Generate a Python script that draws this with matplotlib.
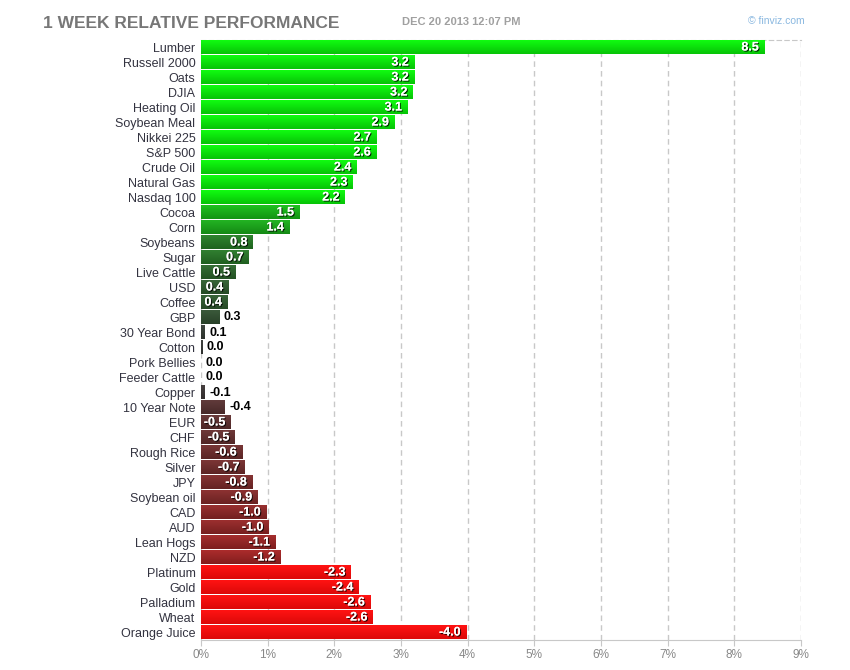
import numpy as np
import matplotlib
matplotlib.use("Agg")
import matplotlib.pyplot as plt
import matplotlib.patheffects as pe

plt.rcParams['font.family'] = ['Liberation Sans', 'DejaVu Sans']

names = ["Lumber", "Russell 2000", "Oats", "DJIA", "Heating Oil", "Soybean Meal",
         "Nikkei 225", "S&P 500", "Crude Oil", "Natural Gas", "Nasdaq 100", "Cocoa",
         "Corn", "Soybeans", "Sugar", "Live Cattle", "USD", "Coffee", "GBP",
         "30 Year Bond", "Cotton", "Pork Bellies", "Feeder Cattle", "Copper",
         "10 Year Note", "EUR", "CHF", "Rough Rice", "Silver", "JPY", "Soybean oil",
         "CAD", "AUD", "Lean Hogs", "NZD", "Platinum", "Gold", "Palladium", "Wheat",
         "Orange Juice"]
values = [8.45, 3.2, 3.2, 3.18, 3.1, 2.9, 2.63, 2.63, 2.34, 2.28, 2.16, 1.48,
          1.33, 0.78, 0.72, 0.52, 0.42, 0.40, 0.28, 0.06, 0.02, 0.0, 0.0, -0.06,
          -0.36, -0.45, -0.51, -0.62, -0.66, -0.77, -0.85, -0.98, -1.02, -1.12,
          -1.19, -2.25, -2.37, -2.54, -2.58, -3.98]
labels = ["8.5", "3.2", "3.2", "3.2", "3.1", "2.9", "2.7", "2.6", "2.4", "2.3", "2.2",
          "1.5", "1.4", "0.8", "0.7", "0.5", "0.4", "0.4", "0.3", "0.1", "0.0", "0.0",
          "0.0", "-0.1", "-0.4", "-0.5", "-0.5", "-0.6", "-0.7", "-0.8", "-0.9",
          "-1.0", "-1.0", "-1.1", "-1.2", "-2.3", "-2.4", "-2.6", "-2.6", "-4.0"]
xticks = list(range(10))


def bar_color(v):
    gray = np.array([51, 51, 51]) / 255
    if v >= 0:
        if v >= 2:
            return np.array([8, 218, 8]) / 255
        end = np.array([10, 205, 10]) / 255
    else:
        if v <= -2:
            return np.array([245, 10, 10]) / 255
        end = np.array([210, 20, 20]) / 255
    t = min(abs(v) / 2.0, 1.0)
    return gray + (end - gray) * t


fig = plt.figure(figsize=(8.5, 6.7), dpi=100)
ax = fig.add_axes([201 / 850, 30 / 670, 600 / 850, 600 / 670])

n = len(names)
for i, v in enumerate(values):
    a = abs(v)
    c = bar_color(v)
    if a > 0:
        top = np.clip(c * 1.12 + 0.03, 0, 1)
        bot = c * 0.9
        grad = np.linspace(0, 1, 20)[:, None, None] * (bot - top) + top
        grad = np.repeat(grad, 2, axis=1)
        ax.imshow(grad, extent=(0, a, i + 0.44, i - 0.46), aspect='auto',
                  interpolation='bilinear', zorder=3)
    if a >= 0.39:
        ax.annotate(labels[i], (a, i), xytext=(-4, 0), textcoords='offset points',
                    ha='right', va='center', fontsize=9, fontweight='bold',
                    color='white', zorder=5,
                    path_effects=[pe.withSimplePatchShadow(offset=(0.8, -0.8),
                                                           shadow_rgbFace='black',
                                                           alpha=0.8), pe.Normal()])
    else:
        ax.annotate(labels[i], (a, i), xytext=(3, 0), textcoords='offset points',
                    ha='left', va='center', fontsize=9, fontweight='bold',
                    color='black', zorder=5)

ax.set_xlim(0, 9)
ax.set_ylim(n - 0.5, -0.5)
ax.set_yticks(range(n))
ax.set_yticklabels(names, fontsize=9, color='#333340')
ax.tick_params(axis='y', length=0, pad=4)
ax.set_xticks(xticks)
ax.set_xticklabels([f"{t}%" for t in xticks], fontsize=8.5, color='#888888')
ax.tick_params(axis='x', length=4, color='#c8c8c8', pad=2.5)
ax.grid(axis='x', color='#c8c8c8', linestyle=(0, (4, 3)), linewidth=1, zorder=0)
ax.set_axisbelow(True)
for s in ['left', 'right']:
    ax.spines[s].set_visible(False)
ax.spines['top'].set_color('#c8c8c8')
ax.spines['top'].set_linestyle((0, (4, 3)))
ax.spines['bottom'].set_color('#c8c8c8')

fig.text(43 / 850, 1 - 23 / 670, "1 WEEK RELATIVE PERFORMANCE", fontsize=12.5,
         fontweight='bold', color='#777777', ha='left', va='center')
fig.text(402 / 850, 1 - 22 / 670, "DEC 20 2013 12:07 PM", fontsize=8,
         fontweight='bold', color='#a0a0a0', ha='left', va='center')
fig.text(805 / 850, 1 - 21 / 670, "\u00a9 finviz.com", fontsize=7.5,
         color='#8ab8e0', ha='right', va='center')

fig.savefig("out.png", dpi=100)
